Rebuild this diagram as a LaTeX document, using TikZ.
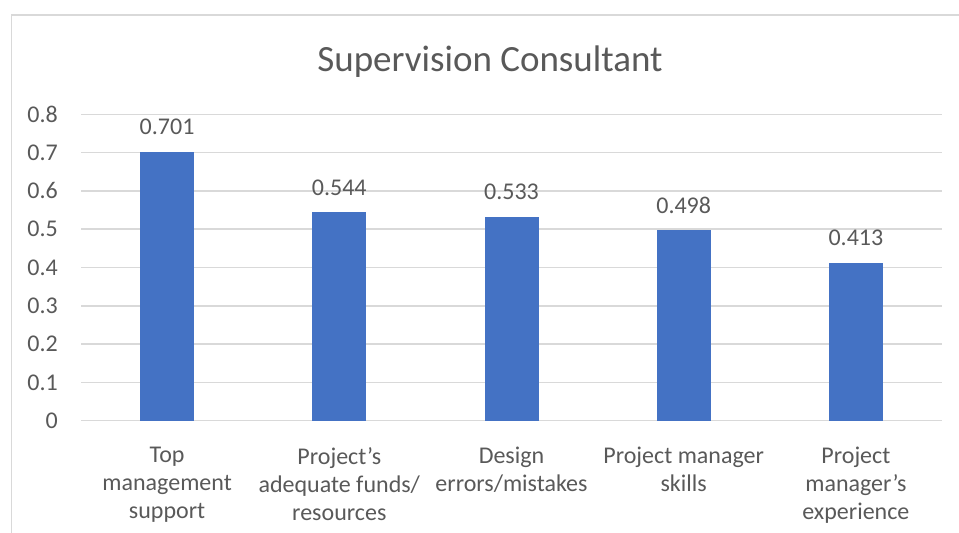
\documentclass[tikz,border=0pt]{standalone}
\usepackage{fontspec}
\setmainfont{Carlito}
\definecolor{barblue}{HTML}{4472C4}
\definecolor{gridgray}{HTML}{D9D9D9}
\definecolor{txtgray}{HTML}{595959}
\begin{document}
\begin{tikzpicture}[x=1pt,y=-1pt,
  gridline/.style={draw=gridgray,line width=1.5pt},
  bar/.style={fill=barblue},
  ticklbl/.style={anchor=east,inner sep=0,text=txtgray,font=\fontsize{24}{28}\selectfont},
  vallbl/.style={anchor=center,inner sep=0,text=txtgray,font=\fontsize{24}{28}\selectfont},
  catlbl/.style={anchor=north,inner sep=0,align=center,text=txtgray,font=\fontsize{24}{28}\selectfont},
  titlelbl/.style={anchor=center,inner sep=0,text=txtgray,font=\fontsize{37}{44}\selectfont}]
\useasboundingbox (0,0) rectangle (959,533);
% chart border
\draw[gridline] (11.5,533) -- (11.5,15) -- (959,15);
% title
\node[titlelbl] (title) at (490,62) {Supervision Consultant};
% gridlines and tick labels
\foreach \v/\t in {0/0,1/0.1,2/0.2,3/0.3,4/0.4,5/0.5,6/0.6,7/0.7,8/0.8}{
  \draw[gridline] (81,{420.7-\v*38.3}) -- (942,{420.7-\v*38.3});
  \node[ticklbl] (tick\v) at (58,{420.7-\v*38.3}) {\t};
}
% bars
\foreach \i/\c/\val in {1/167.1/0.701,2/339.3/0.544,3/511.5/0.533,4/683.7/0.498,5/855.9/0.413}{
  \fill[bar] ({\c-27},420.7) rectangle ({\c+27},{420.7-\val*383});
  \node[vallbl] (val\i) at (\c,{420.7-\val*383-25}) {\val};
}
% category labels
\node[catlbl] (cat1) at (167.1,447) {Top\\management\\support};
\node[catlbl] (cat2) at (339.3,447) {Project’s\\adequate funds/\\resources};
\node[catlbl] (cat3) at (511.5,447) {Design\\errors/mistakes};
\node[catlbl] (cat4) at (683.7,447) {Project manager\\skills};
\node[catlbl] (cat5) at (855.9,447) {Project\\manager’s\\experience};
\end{tikzpicture}
\end{document}
